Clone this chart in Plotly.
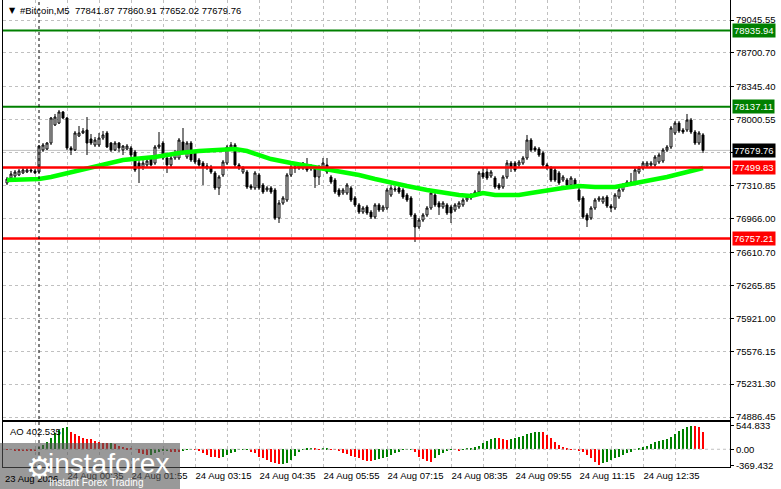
import pandas as pd
import plotly.graph_objects as go

# ---- data (#Bitcoin, M5) ----
times = pd.date_range("2026-08-23 23:20", periods=175, freq="5min")

opens = [77338, 77390, 77411, 77422, 77443, 77453, 77474, 77464, 77453, 77684, 77694, 77757, 77946, 77966, 78082, 78019,
         77705, 77684, 77830, 77862, 77893, 77799, 77736, 77736, 77809, 77862, 77757, 77684, 77757, 77684, 77694, 77705,
         77663, 77547, 77506, 77527, 77600, 77547, 77715, 77757, 77600, 77527, 77600, 77600, 77767, 77610, 77757, 77652,
         77579, 77547, 77516, 77506, 77443, 77286, 77422, 77547, 77705, 77736, 77527, 77453, 77453, 77306, 77286, 77422,
         77317, 77265, 77286, 77265, 76971, 77128, 77160, 77422, 77506, 77495, 77547, 77527, 77485, 77495, 77401, 77506,
         77527, 77401, 77369, 77265, 77233, 77233, 77286, 77181, 77108, 77034, 77087, 77034, 76982, 77108, 77055, 77076,
         77212, 77265, 77286, 77265, 77212, 77181, 77003, 76877, 76950, 77003, 77076, 77212, 77128, 77087, 77108, 77087,
         77055, 77087, 77108, 77160, 77181, 77212, 77244, 77443, 77453, 77411, 77390, 77317, 77296, 77401, 77547, 77547,
         77527, 77547, 77600, 77788, 77705, 77694, 77652, 77527, 77495, 77474, 77443, 77369, 77369, 77317, 77369, 77265,
         77181, 77003, 76971, 77076, 77160, 77139, 77191, 77097, 77076, 77191, 77265, 77317, 77348, 77348, 77453, 77495,
         77516, 77527, 77527, 77558, 77568, 77684, 77715, 77862, 77966, 77893, 77893, 77998, 77872, 77757, 77841.87]

highs = [77401, 77464, 77474, 77485, 77495, 77506, 77495, 77485, 77736, 77757, 77767, 78029, 78061, 78103, 78092, 78029,
         77725, 77883, 77935, 77914, 78029, 77851, 77820, 77862, 77883, 77883, 77767, 77778, 77767, 77736, 77746, 77725,
         77684, 77579, 77579, 77600, 77621, 77736, 77872, 77778, 77621, 77621, 77684, 77809, 77914, 77778, 77778, 77673,
         77600, 77568, 77547, 77527, 77464, 77422, 77579, 77736, 77767, 77757, 77547, 77516, 77474, 77327, 77464, 77443,
         77338, 77306, 77306, 77286, 77160, 77202, 77443, 77527, 77547, 77547, 77558, 77600, 77537, 77516, 77527, 77600,
         77600, 77422, 77390, 77286, 77286, 77338, 77306, 77202, 77128, 77097, 77108, 77055, 77128, 77128, 77108, 77286,
         77317, 77306, 77306, 77286, 77233, 77202, 77024, 76971, 77024, 77097, 77265, 77233, 77149, 77149, 77128, 77108,
         77128, 77149, 77181, 77212, 77233, 77265, 77464, 77506, 77495, 77474, 77411, 77338, 77422, 77579, 77568, 77568,
         77579, 77621, 77841, 77809, 77725, 77715, 77673, 77547, 77516, 77495, 77464, 77422, 77390, 77411, 77390, 77286,
         77202, 77024, 77097, 77181, 77202, 77202, 77212, 77118, 77233, 77286, 77338, 77369, 77443, 77495, 77516, 77568,
         77568, 77568, 77631, 77652, 77705, 77736, 77935, 77987, 77987, 77914, 78061, 78019, 77893, 77883, 77860.91]

lows = [77317, 77380, 77390, 77411, 77432, 77443, 77443, 77432, 77432, 77663, 77684, 77736, 77935, 77956, 78008, 77684,
        77631, 77673, 77820, 77851, 77631, 77736, 77715, 77715, 77788, 77705, 77663, 77673, 77663, 77631, 77684, 77610,
        77453, 77338, 77474, 77506, 77516, 77527, 77694, 77579, 77443, 77506, 77579, 77579, 77642, 77589, 77558, 77537,
        77506, 77317, 77474, 77432, 77265, 77212, 77401, 77527, 77684, 77506, 77474, 77432, 77275, 77265, 77265, 77265,
        77223, 77244, 77223, 76950, 76919, 77108, 77139, 77401, 77443, 77474, 77474, 77453, 77464, 77286, 77317, 77485,
        77432, 77327, 77223, 77191, 77212, 77212, 77139, 77087, 77013, 77013, 77003, 76961, 76961, 77034, 77034, 77055,
        77191, 77244, 77223, 77170, 77139, 76982, 76720, 76856, 76929, 76982, 77055, 77087, 77003, 77066, 77003, 76919,
        77034, 77066, 77087, 77139, 77160, 77191, 77223, 77380, 77369, 77390, 77275, 77265, 77275, 77380, 77453, 77453,
        77506, 77527, 77579, 77663, 77663, 77610, 77506, 77474, 77348, 77348, 77317, 77348, 77296, 77296, 77296, 77139,
        76961, 76877, 76950, 77055, 77139, 77118, 77076, 77034, 77055, 77170, 77244, 77296, 77317, 77327, 77432, 77474,
        77495, 77506, 77506, 77537, 77547, 77663, 77694, 77841, 77862, 77851, 77872, 77851, 77736, 77736, 77652.02]

closes = [77380, 77432, 77453, 77464, 77474, 77474, 77464, 77443, 77725, 77736, 77757, 78019, 78029, 78082, 78019, 77705,
          77684, 77862, 77862, 77883, 77757, 77757, 77788, 77809, 77841, 77715, 77684, 77757, 77705, 77725, 77725, 77631,
          77474, 77495, 77547, 77568, 77527, 77715, 77736, 77600, 77527, 77600, 77652, 77788, 77663, 77757, 77579, 77558,
          77527, 77506, 77495, 77453, 77286, 77401, 77558, 77715, 77736, 77527, 77495, 77495, 77296, 77286, 77443, 77286,
          77244, 77286, 77244, 76971, 77128, 77181, 77422, 77506, 77495, 77527, 77495, 77474, 77516, 77401, 77506, 77547,
          77453, 77348, 77244, 77212, 77265, 77317, 77160, 77108, 77034, 77076, 77024, 76982, 77108, 77055, 77087, 77265,
          77286, 77275, 77244, 77191, 77160, 77003, 76877, 76950, 77003, 77076, 77233, 77108, 77087, 77128, 77024, 77024,
          77108, 77128, 77160, 77191, 77212, 77244, 77443, 77401, 77390, 77453, 77296, 77286, 77401, 77547, 77506, 77474,
          77558, 77600, 77788, 77684, 77684, 77631, 77527, 77495, 77369, 77369, 77338, 77401, 77317, 77390, 77317, 77160,
          76982, 76950, 77076, 77160, 77181, 77181, 77097, 77076, 77212, 77265, 77317, 77348, 77338, 77474, 77495, 77547,
          77547, 77547, 77610, 77631, 77684, 77715, 77914, 77966, 77883, 77872, 77998, 77872, 77757, 77862, 77679.76]

# green moving average, read at these bars
ma_bars = [0, 8, 11, 15, 19, 23, 29, 37, 43, 48, 53, 57, 60, 62, 66, 71, 75, 79, 83, 88, 92, 96, 100,
           105, 109, 113, 116, 119, 122, 128, 131, 135, 139, 143, 147, 152, 156, 160, 165, 169, 174]
ma_vals = [77369, 77380, 77401, 77443, 77485, 77527, 77579, 77610, 77652, 77673, 77684, 77694, 77673, 77642,
           77589, 77547, 77516, 77495, 77464, 77422, 77380, 77338, 77306, 77265, 77233, 77212, 77202, 77233,
           77212, 77212, 77233, 77265, 77286, 77306, 77296, 77296, 77327, 77359, 77401, 77443, 77495]

# Awesome Oscillator histogram
ao = [-10, -15, -20, -22, -25, -27, -28, -30,
      62, 100, 177, 254, 370, 447, 485, 508,
      408, 354, 308, 254, 231, 228, 200, 177,
      154, 138, 140, 115, 77, 62, 38, 23,
      0, -77, -108, -135, -130, -92, -54, -50,
      -31, -54, -56, -60, -46, -15, -5, -12,
      -31, -92, -131, -169, -185, -208, -170, -131,
      -92, -54, -15, -2, 3, -54, -92, -169,
      -208, -246, -285, -323, -346, -339, -323, -246,
      -154, -54, -15, 8, 15, 10, 2, 8,
      9, 1, -2, -31, -77, -108, -146, -169,
      -192, -246, -262, -265, -246, -231, -208, -169,
      -131, -77, -54, -15, -12, -2, -54, -169,
      -231, -262, -285, -208, -131, -77, -31, -2,
      -15, -31, -5, 8, 23, 46, 77, 154,
      200, 231, 254, 250, 231, 215, 231, 254,
      277, 308, 346, 385, 393, 395, 390, 331,
      254, 177, 100, 46, 8, 2, -2, -31,
      -54, -131, -208, -285, -369.432, -323, -285, -246,
      -208, -169, -131, -92, -54, -15, 15, 46,
      77, 115, 162, 192, 215, 231, 277, 354,
      431, 470, 523, 544.833, 540, 505, 402.535]

green_levels = [78935.94, 78137.11]
red_levels = [77499.83, 76757.21]

price_ticks = [79045.55, 78700.70, 78345.40, 78000.55, 77655.70, 77310.85, 76966.00,
               76610.70, 76265.85, 75921.00, 75576.15, 75231.30, 74886.45]
price_tick_text = ["79045.55", "78700.70", "78345.40", "78000.55", "", "77310.85", "76966.00",
                   "76610.70", "76265.85", "75921.00", "75576.15", "75231.30", "74886.45"]
ao_ticks = [544.833, 0.0, -369.432]
ao_tick_text = ["544.833", "0.00", "-369.432"]

label_bars = [15, 31, 47, 63, 79, 95, 111, 127, 143, 159]
time_labels = ["24 Aug 00:35", "24 Aug 01:55", "24 Aug 03:15", "24 Aug 04:35", "24 Aug 05:55",
               "24 Aug 07:15", "24 Aug 08:35", "24 Aug 09:55", "24 Aug 11:15", "24 Aug 12:35"]
first_label = "23 Aug 2026"
day_break_bar = 8

# ---- geometry (pixels of the 781x489 window) ----
W, H = 781, 489
ML, MR, MT, MB = 3, 51, 0, 22
PW, PH = W - ML - MR, H - MT - MB
FONT = "Liberation Sans"
GRID = "#C0C0C0"
BAR = pd.Timedelta(minutes=5)


def px(x):
    return (x - ML) / PW


def py(y):
    return (H - MB - y) / PH


ao_colors = ["#FF0000" if i == 0 or ao[i] < ao[i - 1] else "#008000" for i in range(len(ao))]

fig = go.Figure()
fig.add_trace(go.Candlestick(
    x=times, open=opens, high=highs, low=lows, close=closes,
    increasing=dict(line=dict(color="black", width=1), fillcolor="white"),
    decreasing=dict(line=dict(color="black", width=1), fillcolor="black"),
    whiskerwidth=0, showlegend=False, xaxis="x", yaxis="y"))
fig.add_trace(go.Scatter(
    x=times[ma_bars], y=ma_vals, mode="lines",
    line=dict(color="#00FF00", width=4.5), showlegend=False, xaxis="x", yaxis="y"))
fig.add_trace(go.Bar(
    x=times, y=ao, marker=dict(color=ao_colors, line=dict(width=0)),
    width=80000, showlegend=False, xaxis="x2", yaxis="y2"))

# level lines and bid line
fig.add_shape(type="line", xref="paper", x0=0, x1=1, yref="y", y0=closes[-1], y1=closes[-1],
              line=dict(color=GRID, width=1), layer="below")
for lv in green_levels:
    fig.add_shape(type="line", xref="paper", x0=0, x1=1, yref="y", y0=lv, y1=lv,
                  line=dict(color="#008000", width=2))
for lv in red_levels:
    fig.add_shape(type="line", xref="paper", x0=0, x1=1, yref="y", y0=lv, y1=lv,
                  line=dict(color="#FF0000", width=2.5))
fig.add_shape(type="line", xref="paper", x0=0, x1=1, yref="y2", y0=0, y1=0,
              line=dict(color=GRID, width=1, dash="3px,3px"))
fig.add_shape(type="line", xref="x", x0=times[day_break_bar], x1=times[day_break_bar],
              yref="paper", y0=0, y1=1, line=dict(color="black", width=1, dash="3px,3px"))


def axis_box(y, text, bg):
    fig.add_annotation(x=1, xref="paper", y=y, yref="y", text=text, showarrow=False,
                       xanchor="left", xshift=2, bgcolor=bg, borderpad=1,
                       font=dict(family=FONT, size=9.5, color="white"))


for lv in green_levels:
    axis_box(lv, f"{lv:.2f}", "#008000")
for lv in red_levels:
    axis_box(lv, f"{lv:.2f}", "#FF0000")
axis_box(closes[-1], f"{closes[-1]:.2f}", "black")

# header and indicator caption
fig.add_annotation(x=px(7), y=py(10), xref="paper", yref="paper", text="▼", showarrow=False,
                   xanchor="left", yanchor="middle", font=dict(family="DejaVu Sans", size=8, color="black"))
header = (f"#Bitcoin,M5\u00a0\u00a0{opens[-1]:.2f} {highs[-1]:.2f} {lows[-1]:.2f} {closes[-1]:.2f}")
fig.add_annotation(x=px(18), y=py(10), xref="paper", yref="paper", text=header, showarrow=False,
                   xanchor="left", yanchor="middle", font=dict(family=FONT, size=9.5, color="black"))
fig.add_annotation(x=px(8), y=py(431), xref="paper", yref="paper", text=f"AO {ao[-1]:.3f}",
                   showarrow=False, xanchor="left", yanchor="middle",
                   font=dict(family=FONT, size=9.5, color="black"))
fig.add_annotation(x=times[0], xref="x", y=py(478), yref="paper", text=first_label, showarrow=False,
                   xanchor="left", yanchor="middle", xshift=-4,
                   font=dict(family=FONT, size=9.5, color="black"))

# instaforex watermark
fig.add_shape(type="rect", xref="paper", yref="paper", x0=px(0), x1=px(180), y0=py(489), y1=py(443),
              fillcolor="rgba(85,85,85,0.6)", line=dict(width=0), layer="above")
fig.add_annotation(x=px(24), y=py(467), xref="paper", yref="paper", text="⚙", showarrow=False,
                   yanchor="middle", font=dict(family="DejaVu Sans", size=30, color="white"))
fig.add_annotation(x=px(46), y=py(463), xref="paper", yref="paper", text="instaforex", showarrow=False,
                   xanchor="left", yanchor="middle", font=dict(family=FONT, size=28, color="white"))
fig.add_annotation(x=px(47), y=py(482), xref="paper", yref="paper", text="Instant Forex Trading",
                   showarrow=False, xanchor="left", yanchor="middle",
                   font=dict(family=FONT, size=10, color="white"))

grid_bars = list(range(7, len(times), 8))
grid_text = [time_labels[label_bars.index(b)] if b in label_bars else "" for b in grid_bars]
x_range = [times[0] - BAR, times[0] + BAR * 180.75]

xcommon = dict(type="date", range=x_range, showgrid=True, gridcolor=GRID, griddash="3px,3px",
               gridwidth=1, tickvals=times[grid_bars], ticktext=grid_text, ticks="",
               showline=True, linecolor="black", linewidth=1, mirror=True, zeroline=False,
               fixedrange=True, automargin=False)

fig.update_layout(
    width=W, height=H, margin=dict(l=ML, r=MR, t=MT, b=MB, autoexpand=False),
    paper_bgcolor="white", plot_bgcolor="white", showlegend=False, bargap=0,
    xaxis=dict(**xcommon, anchor="y", domain=[0, 1], showticklabels=False,
               rangeslider=dict(visible=False)),
    xaxis2=dict(**xcommon, anchor="y2", domain=[0, 1], matches="x", showticklabels=True,
                ticklabelposition="outside right", tickangle=0,
                tickfont=dict(family=FONT, size=9.5, color="black")),
    yaxis=dict(domain=[py(420), 1], range=[74855.15, 79255.07], side="right",
               tickvals=price_ticks, ticktext=price_tick_text, ticks="outside", ticklen=3,
               tickcolor="black", showgrid=True, gridcolor=GRID, griddash="3px,3px",
               showline=True, linecolor="black", mirror=True, zeroline=False, automargin=False,
               tickfont=dict(family=FONT, size=9.5, color="black")),
    yaxis2=dict(domain=[0, py(422)], range=[-410, 630], side="right",
                tickvals=ao_ticks, ticktext=ao_tick_text, ticks="outside", ticklen=3,
                tickcolor="black", showgrid=False, showline=True, linecolor="black",
                mirror=True, zeroline=False, automargin=False,
                tickfont=dict(family=FONT, size=9.5, color="black")),
)

# the page's default 8px body margin would shift the chart, so drop it
fig.write_html("out.html", config={"displayModeBar": False},
               post_script="document.body.style.margin = '0px';")
